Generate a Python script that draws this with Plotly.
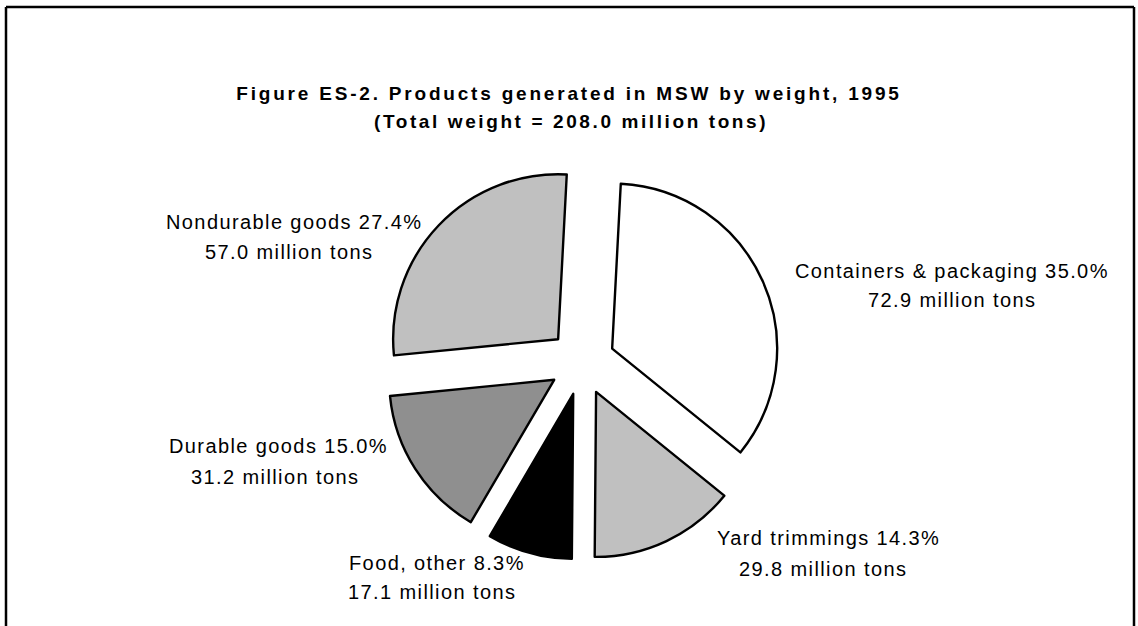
import plotly.graph_objects as go

# ---- data ----
categories = ["Containers & packaging", "Yard trimmings", "Food, other", "Durable goods", "Nondurable goods"]
percent = [35.0, 14.3, 8.3, 15.0, 27.4]
tons = [72.9, 29.8, 17.1, 31.2, 57.0]
colors = ["#ffffff", "#c0c0c0", "#000000", "#8f8f8f", "#c0c0c0"]

title_line1 = "Figure ES-2. Products generated in MSW by weight, 1995"
title_line2 = "(Total weight = 208.0 million tons)"

W, H = 1138, 626
FONT = "Liberation Sans, Arial, sans-serif"

# label line centres in pixels (line1, line2) for each category
label_pos = [
    ((952, 271), (952, 300)),
    ((828, 538), (823, 569)),
    ((437, 563), (432, 592)),
    ((278, 446), (275, 477)),
    ((294, 222), (289, 252)),
]

def px(x, y):
    return x / W, 1 - y / H

def spaced(t, ls):
    return f'<span style="letter-spacing:{ls}px">{t}</span>'

# pie geometry (pixels)
cx, cy, r, pull = 582, 362, 165, 0.2
half = r * (1 + pull)

fig = go.Figure(go.Pie(
    labels=categories,
    values=percent,
    sort=False,
    direction="clockwise",
    rotation=3,
    pull=[pull] * len(categories),
    marker=dict(colors=colors, line=dict(color="#000000", width=2.4)),
    textinfo="none",
    hoverinfo="label+percent",
    showlegend=False,
    domain=dict(x=[(cx - half) / W, (cx + half) / W],
                y=[(H - cy - half) / H, (H - cy + half) / H]),
))

annotations = []
for cat, p, t, (l1, l2) in zip(categories, percent, tons, label_pos):
    for (lx, ly), txt in ((l1, f"{cat} {p:.1f}%"), (l2, f"{t:.1f} million tons")):
        ax, ay = px(lx, ly)
        annotations.append(dict(
            x=ax, y=ay, xref="paper", yref="paper",
            xanchor="center", yanchor="middle", showarrow=False,
            text=spaced(txt, 1.4),
            font=dict(family=FONT, size=20, color="#000000"),
        ))

ax2, ay2 = px(571, 122)
annotations.append(dict(
    x=ax2, y=ay2, xref="paper", yref="paper",
    xanchor="center", yanchor="middle", showarrow=False,
    text="<b>" + spaced(title_line2, 2.6) + "</b>",
    font=dict(family=FONT, size=19, color="#000000"),
))

tx, ty = px(569, 93)
bx0, by0 = px(6, 7)
bx1, _ = px(1134, 7)

fig.update_layout(
    width=W, height=H,
    margin=dict(l=0, r=0, t=0, b=0),
    paper_bgcolor="#ffffff",
    plot_bgcolor="#ffffff",
    title=dict(
        text="<b>" + spaced(title_line1, 2.8) + "</b>",
        x=tx, xanchor="center",
        y=ty, yanchor="middle", yref="container",
        font=dict(family=FONT, size=19, color="#000000"),
    ),
    annotations=annotations,
    shapes=[
        dict(type="line", xref="paper", yref="paper",
             x0=bx0, x1=bx0, y0=-0.1, y1=by0,
             line=dict(color="#000000", width=2.5)),
        dict(type="line", xref="paper", yref="paper",
             x0=bx0, x1=bx1, y0=by0, y1=by0,
             line=dict(color="#000000", width=2.5)),
        dict(type="line", xref="paper", yref="paper",
             x0=bx1, x1=bx1, y0=-0.1, y1=by0,
             line=dict(color="#000000", width=2.5)),
    ],
)

fig.write_html("out.html",
               config={"displayModeBar": False},
               post_script="document.body.style.margin='0px';document.body.style.overflow='hidden';")
